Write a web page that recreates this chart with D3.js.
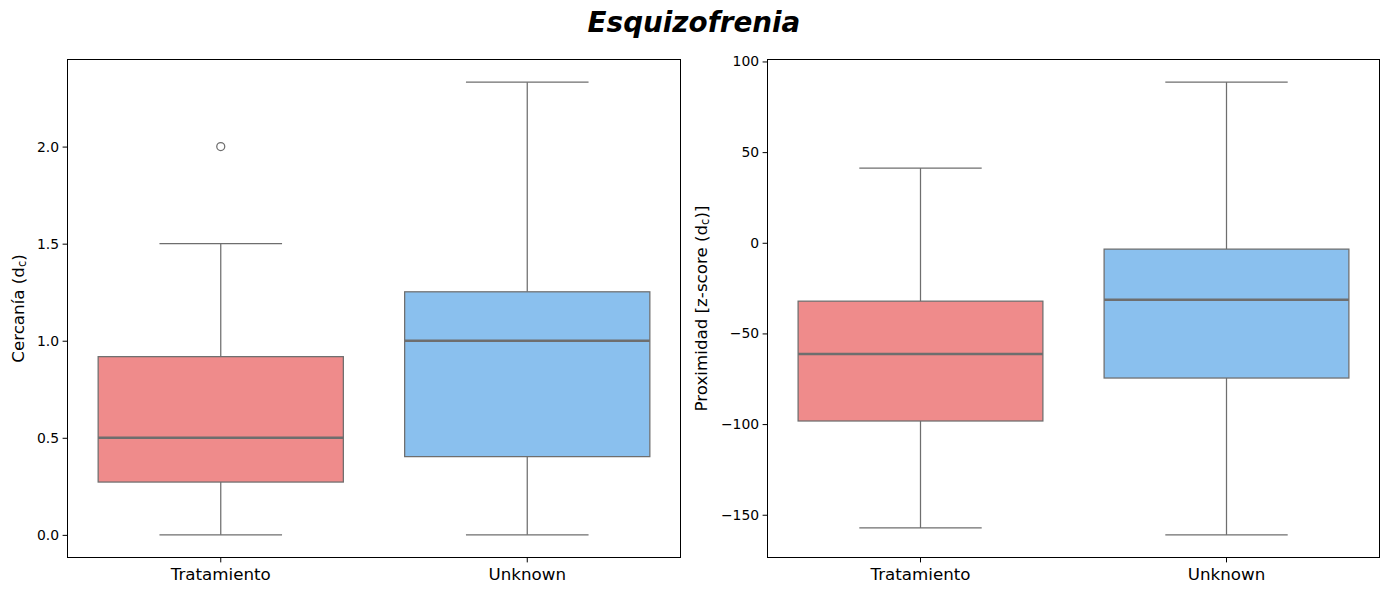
<!DOCTYPE html>
<html><head><meta charset="utf-8">
<script src="https://cdn.jsdelivr.net/npm/d3@7"></script>
<style>body{margin:0;background:#fff;} text{font-family:"DejaVu Sans",sans-serif;}</style>
</head><body>
<svg id="chart" width="1389" height="592"></svg>
<script>
const title = "Esquizofrenia";
const categories = ["Tratamiento", "Unknown"];
const colors = ["#ef8b8b", "#8ac0ee"];
// Panel 1: Cercanía
const cercaniaLow = [0.0, 0.0];
const cercaniaQ1 = [0.272, 0.403];
const cercaniaMedian = [0.5, 1.0];
const cercaniaQ3 = [0.918, 1.252];
const cercaniaHigh = [1.5, 2.332];
const cercaniaOutliers = [[2.0], []];
const cercaniaTicks = [0.0, 0.5, 1.0, 1.5, 2.0];
// Panel 2: Proximidad
const proxLow = [-157.3, -161.1];
const proxQ1 = [-98.3, -74.6];
const proxMedian = [-61.4, -31.4];
const proxQ3 = [-32.2, -3.5];
const proxHigh = [41.2, 88.6];
const proxOutliers = [[], []];
const proxTicks = [-150, -100, -50, 0, 50, 100];

const svg = d3.select("#chart");
const lineColor = "#6e6e6e";

svg.append("text").attr("x", 694).attr("y", 32).attr("text-anchor", "middle")
  .attr("font-size", 27.8).attr("font-weight", "bold").attr("font-style", "italic").text(title);

function panel(cfg) {
  const {x0, x1, y0, y1, low, q1, med, q3, high, outl, ticks, fmt, label, labelX} = cfg;
  const g = svg.append("g");
  const data = categories.map((c, i) => ({c, i, low: low[i], q1: q1[i], med: med[i], q3: q3[i], high: high[i], outl: outl[i]}));
  const allVals = data.flatMap(d => [d.low, d.high, ...d.outl]);
  const mn = d3.min(allVals), mx = d3.max(allVals), m = (mx - mn) * 0.05;
  const y = d3.scaleLinear().domain([mn - m, mx + m]).range([y1, y0]);
  const x = d3.scaleBand().domain(categories).range([x0, x1]).paddingInner(0).paddingOuter(0);
  const bw = x.bandwidth() * 0.8;
  const cx = d => x(d.c) + x.bandwidth() / 2;

  g.selectAll(".wl").data(data).join("line")
    .attr("x1", cx).attr("x2", cx).attr("y1", d => y(d.high)).attr("y2", d => y(d.q3))
    .attr("stroke", lineColor).attr("stroke-width", 1.25);
  g.selectAll(".wl2").data(data).join("line")
    .attr("x1", cx).attr("x2", cx).attr("y1", d => y(d.q1)).attr("y2", d => y(d.low))
    .attr("stroke", lineColor).attr("stroke-width", 1.25);
  g.selectAll(".cap1").data(data).join("line")
    .attr("x1", d => cx(d) - bw / 4).attr("x2", d => cx(d) + bw / 4)
    .attr("y1", d => y(d.high)).attr("y2", d => y(d.high))
    .attr("stroke", lineColor).attr("stroke-width", 1.25);
  g.selectAll(".cap2").data(data).join("line")
    .attr("x1", d => cx(d) - bw / 4).attr("x2", d => cx(d) + bw / 4)
    .attr("y1", d => y(d.low)).attr("y2", d => y(d.low))
    .attr("stroke", lineColor).attr("stroke-width", 1.25);
  g.selectAll(".box").data(data).join("rect")
    .attr("x", d => cx(d) - bw / 2).attr("width", bw)
    .attr("y", d => y(d.q3)).attr("height", d => y(d.q1) - y(d.q3))
    .attr("fill", d => colors[d.i]).attr("stroke", lineColor).attr("stroke-width", 1.25);
  g.selectAll(".med").data(data).join("line")
    .attr("x1", d => cx(d) - bw / 2).attr("x2", d => cx(d) + bw / 2)
    .attr("y1", d => y(d.med)).attr("y2", d => y(d.med))
    .attr("stroke", lineColor).attr("stroke-width", 2.5);
  const pts = data.flatMap(d => d.outl.map(v => ({d, v})));
  g.selectAll(".out").data(pts).join("circle")
    .attr("cx", p => cx(p.d)).attr("cy", p => y(p.v)).attr("r", 4)
    .attr("fill", "none").attr("stroke", lineColor).attr("stroke-width", 1.25);

  g.append("rect").attr("x", x0).attr("y", y0).attr("width", x1 - x0).attr("height", y1 - y0)
    .attr("fill", "none").attr("stroke", "#000").attr("stroke-width", 1);

  const ya = g.append("g").attr("transform", `translate(${x0},0)`)
    .call(d3.axisLeft(y).tickValues(ticks).tickFormat(fmt).tickSize(4.9).tickPadding(3.5));
  ya.select(".domain").remove();
  ya.selectAll("text").attr("font-size", 13.9).attr("font-family", "DejaVu Sans").attr("fill", "#000");
  ya.selectAll("line").attr("stroke", "#000");

  const xa = g.append("g").attr("transform", `translate(0,${y1})`)
    .call(d3.axisBottom(x).tickSize(4.9).tickPadding(3.5));
  xa.select(".domain").remove();
  xa.selectAll("text").attr("font-size", 16.7).attr("font-family", "DejaVu Sans").attr("fill", "#000").attr("dy", "0.85em");
  xa.selectAll("line").attr("stroke", "#000");

  const yc = (y0 + y1) / 2;
  const t = g.append("text").attr("transform", `translate(${labelX},${yc}) rotate(-90)`)
    .attr("text-anchor", "middle").attr("font-size", 16.7);
  t.append("tspan").text(label[0]);
  t.append("tspan").attr("font-size", 11.5).attr("baseline-shift", "-18%").text(label[1]);
  t.append("tspan").text(label[2]);
}

const fmtMinus = v => (v < 0 ? "\u2212" + Math.abs(v) : String(v));
panel({x0: 67.5, x1: 680.5, y0: 59.5, y1: 557.5, low: cercaniaLow, q1: cercaniaQ1, med: cercaniaMedian,
  q3: cercaniaQ3, high: cercaniaHigh, outl: cercaniaOutliers, ticks: cercaniaTicks,
  fmt: d3.format(".1f"), label: ["Cercanía (d", "c", ")"], labelX: 24});
panel({x0: 767.5, x1: 1379.5, y0: 59.5, y1: 557.5, low: proxLow, q1: proxQ1, med: proxMedian,
  q3: proxQ3, high: proxHigh, outl: proxOutliers, ticks: proxTicks,
  fmt: fmtMinus, label: ["Proximidad [z-score (d", "c", ")]"], labelX: 707});
</script>
</body></html>
